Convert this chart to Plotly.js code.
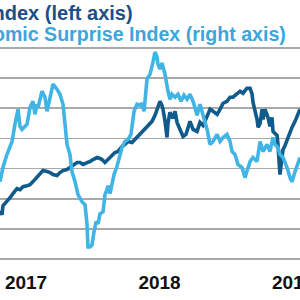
<!DOCTYPE html>
<html>
<head>
<meta charset="utf-8">
<script src="https://cdn.plot.ly/plotly-3.0.1.min.js"></script>
<style>html,body{margin:0;padding:0;background:#fff;}#chart{width:300px;height:300px;}</style>
</head>
<body>
<div id="chart"></div>
<script>
// Index (left axis) — dark blue
const indexDates = [2017.305,2017.320,2017.327,2017.357,2017.380,2017.402,2017.432,2017.455,2017.477,2017.507,2017.530,2017.552,2017.582,2017.605,2017.627,2017.657,2017.680,2017.702,2017.732,2017.754,2017.777,2017.807,2017.829,2017.852,2017.882,2017.904,2017.927,2017.957,2017.979,2018.002,2018.032,2018.054,2018.069,2018.091,2018.114,2018.144,2018.166,2018.189,2018.219,2018.241,2018.264,2018.294,2018.316,2018.339,2018.369,2018.391,2018.414,2018.444,2018.466,2018.488,2018.503,2018.518,2018.526,2018.541,2018.556,2018.563,2018.578,2018.601,2018.616,2018.631,2018.653,2018.676,2018.698,2018.713,2018.728,2018.751,2018.781,2018.803,2018.826,2018.856,2018.878,2018.901,2018.931,2018.953,2018.976,2019.005,2019.028,2019.050,2019.080,2019.103,2019.125,2019.155,2019.178,2019.193,2019.200,2019.215,2019.230,2019.238,2019.253,2019.268,2019.275,2019.290,2019.312,2019.327,2019.342,2019.350,2019.380,2019.387,2019.402,2019.417,2019.425,2019.440,2019.462,2019.492,2019.515,2019.537,2019.552];
const indexValues = [46.8,46.4,47.3,47.7,48.1,48.5,49.0,48.9,49.2,49.3,49.4,49.7,50.1,50.5,50.8,50.7,50.6,50.4,50.3,50.6,50.8,50.9,51.1,51.3,51.6,51.6,51.4,51.6,51.7,51.9,52.1,52.0,51.9,51.6,51.9,52.2,52.6,52.7,53.2,53.4,53.7,53.6,53.9,54.2,54.6,54.9,55.2,55.7,56.3,57.1,57.7,57.3,56.9,55.7,54.1,55.5,56.6,56.0,56.7,55.6,54.9,54.2,54.4,55.1,55.7,54.9,54.7,55.6,55.3,56.2,56.9,56.7,56.4,56.9,57.5,57.7,58.1,58.1,58.5,58.7,58.5,59.0,59.0,58.4,57.6,56.9,55.9,55.1,55.5,56.9,55.9,56.9,56.1,55.2,56.1,54.7,54.3,53.4,50.4,52.1,52.9,53.3,54.1,55.1,55.7,56.3,56.9];

// Economic Surprise Index (right axis) — light blue
const surpriseDates = [2017.305,2017.327,2017.357,2017.395,2017.417,2017.432,2017.440,2017.455,2017.470,2017.507,2017.530,2017.552,2017.567,2017.582,2017.590,2017.620,2017.642,2017.657,2017.680,2017.702,2017.732,2017.754,2017.777,2017.792,2017.807,2017.829,2017.844,2017.867,2017.889,2017.919,2017.942,2017.957,2017.964,2017.979,2017.994,2018.009,2018.024,2018.039,2018.054,2018.077,2018.091,2018.106,2018.114,2018.129,2018.144,2018.159,2018.181,2018.196,2018.219,2018.241,2018.264,2018.286,2018.309,2018.331,2018.354,2018.369,2018.384,2018.406,2018.429,2018.451,2018.466,2018.481,2018.488,2018.503,2018.518,2018.541,2018.556,2018.563,2018.578,2018.593,2018.616,2018.638,2018.661,2018.683,2018.706,2018.728,2018.751,2018.781,2018.803,2018.826,2018.856,2018.878,2018.901,2018.931,2018.953,2018.976,2019.005,2019.028,2019.043,2019.065,2019.088,2019.118,2019.140,2019.163,2019.178,2019.200,2019.230,2019.253,2019.275,2019.305,2019.327,2019.350,2019.365,2019.387,2019.402,2019.425,2019.455,2019.477,2019.492,2019.515,2019.537,2019.552];
const surpriseValues = [-43,-29,-16,-3,14,24,29,12,9,14,31,37,24,34,31,47,41,27,41,54,49,44,34,11,-6,-16,-33,-43,-56,-63,-66,-86,-108,-108,-106,-93,-83,-85,-75,-73,-56,-51,-47,-55,-47,-36,-28,-19,-9,-3,-1,4,27,34,33,35,27,59,64,76,86,81,74,69,75,64,51,47,39,44,41,44,37,43,39,44,37,23,34,24,9,-6,-3,4,-3,1,4,-3,-13,-16,-26,-29,-39,-29,-23,-19,-23,-3,-13,-6,-13,1,-6,-9,-16,-19,-29,-39,-43,-33,-23,-19];

// Axis labels
const yearTicks = [2017.5, 2018.5, 2019.5];
const yearLabels = ['2017', '2018', '2019'];
const leftGrid = [42, 45, 48, 51, 54, 57, 60, 63];

const darkBlue = '#105a8c';
const lightBlue = '#40b4e5';

const traces = [
  {x: indexDates, y: indexValues, type: 'scatter', mode: 'lines', yaxis: 'y',
   name: 'Index (left axis)', line: {color: darkBlue, width: 3.6}},
  {x: surpriseDates, y: surpriseValues, type: 'scatter', mode: 'lines', yaxis: 'y2',
   name: 'Citi Economic Surprise Index (right axis)', line: {color: lightBlue, width: 3.6}}
];

const fam = 'Liberation Sans, Arial, sans-serif';

const layout = {
  width: 300, height: 300,
  margin: {l: 0, r: 0, t: 46, b: 39, pad: 0},
  paper_bgcolor: '#ffffff', plot_bgcolor: '#ffffff',
  showlegend: false,
  xaxis: {range: [2017.305, 2019.552], tickmode: 'array', tickvals: yearTicks, ticktext: yearLabels,
          showgrid: false, zeroline: false, showline: false, ticks: '',
          tickfont: {family: fam, size: 19, weight: 'bold', color: '#111111'},
          ticklabelstandoff: 8, ticklabeloverflow: 'allow'},
  yaxis: {range: [41.8, 63.2], tickmode: 'array', tickvals: leftGrid, showticklabels: false,
          showgrid: true, gridcolor: '#a9a9a9', gridwidth: 1.6, zeroline: false, showline: false, ticks: ''},
  yaxis2: {range: [-122, 92], overlaying: 'y', side: 'right', showticklabels: false,
           showgrid: false, zeroline: false, showline: false, ticks: ''},
  annotations: [
    {xref: 'paper', yref: 'paper', x: 135/300, y: (261-12.5)/215, xanchor: 'right', yanchor: 'middle',
     text: 'Index (left axis)', showarrow: false,
     font: {family: fam, size: 20, weight: 'bold', color: '#1d4e89'}},
    {xref: 'paper', yref: 'paper', x: 288/300, y: (261-34)/215, xanchor: 'right', yanchor: 'middle',
     text: 'Citi Economic Surprise Index (right axis)', showarrow: false,
     font: {family: fam, size: 19.6, weight: 'bold', color: '#3aa6dc'}}
  ]
};

Plotly.newPlot('chart', traces, layout, {staticPlot: true, displayModeBar: false});
</script>
</body>
</html>
